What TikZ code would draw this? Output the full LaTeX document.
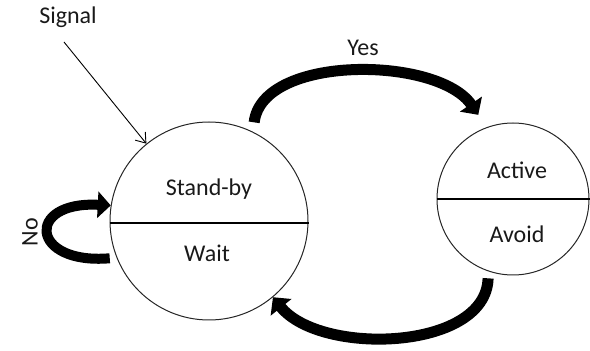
\documentclass[tikz,border=0pt]{standalone}
\usepackage{fontspec}
\setmainfont{Carlito}
\usetikzlibrary{arrows.meta}
\begin{document}
\begin{tikzpicture}[x=1pt,y=1pt,
  state/.style={circle,draw=black!85,line width=1pt,minimum size=#1,inner sep=0pt},
  lbl/.style={font=\fontsize{24}{28}\selectfont,text=black!90},
  bigarrow/.style={line width=11pt,-{Triangle[length=13pt,width=26pt]}},
  thin/.style={line width=0.9pt,-{Straight Barb[length=9pt,width=13pt]}}]
\useasboundingbox (0,0) rectangle (590,351);

% the two states, each split in two halves
\node[state=198pt] (L) at (209,130) {};
\node[state=152pt] (R) at (513,152) {};
\draw[line width=1.1pt] ([yshift=-2pt]L.west) -- ([yshift=-2pt]L.east);
\draw[line width=1.1pt] (R.west) -- (R.east);

\node[lbl] (standby) at (209,162) {Stand-by};
\node[lbl] (wait)    at (207,98)  {Wait};
\node[lbl] (active)  at (517,181) {Active};
\node[lbl] (avoid)   at (517,117) {Avoid};

% incoming signal
\node[lbl] (signal) at (68,334) {Signal};
\coordinate (sigstart) at (64,309);
\draw[thin] (sigstart) -- (L.129);

% transitions
\coordinate (ys) at ([yshift=10pt]L.63);
\coordinate (ye) at ([yshift=16pt]R.117);
\draw[bigarrow] (ys) .. controls (262,297) and (438,295) .. (ye);
\node[lbl] (yes) at (363,303) {Yes};

\coordinate (bs) at ([yshift=-7pt]R.251);
\draw[bigarrow] (bs) .. controls (486,0) and (320,-5) .. (L.-50);

\coordinate (ns) at ([xshift=-7pt]L.202);
\draw[bigarrow,line width=10pt] (ns) .. controls (30,86) and (25,150) .. (L.171);
\node[lbl,rotate=90] (no) at (30,119) {No};
\end{tikzpicture}
\end{document}
